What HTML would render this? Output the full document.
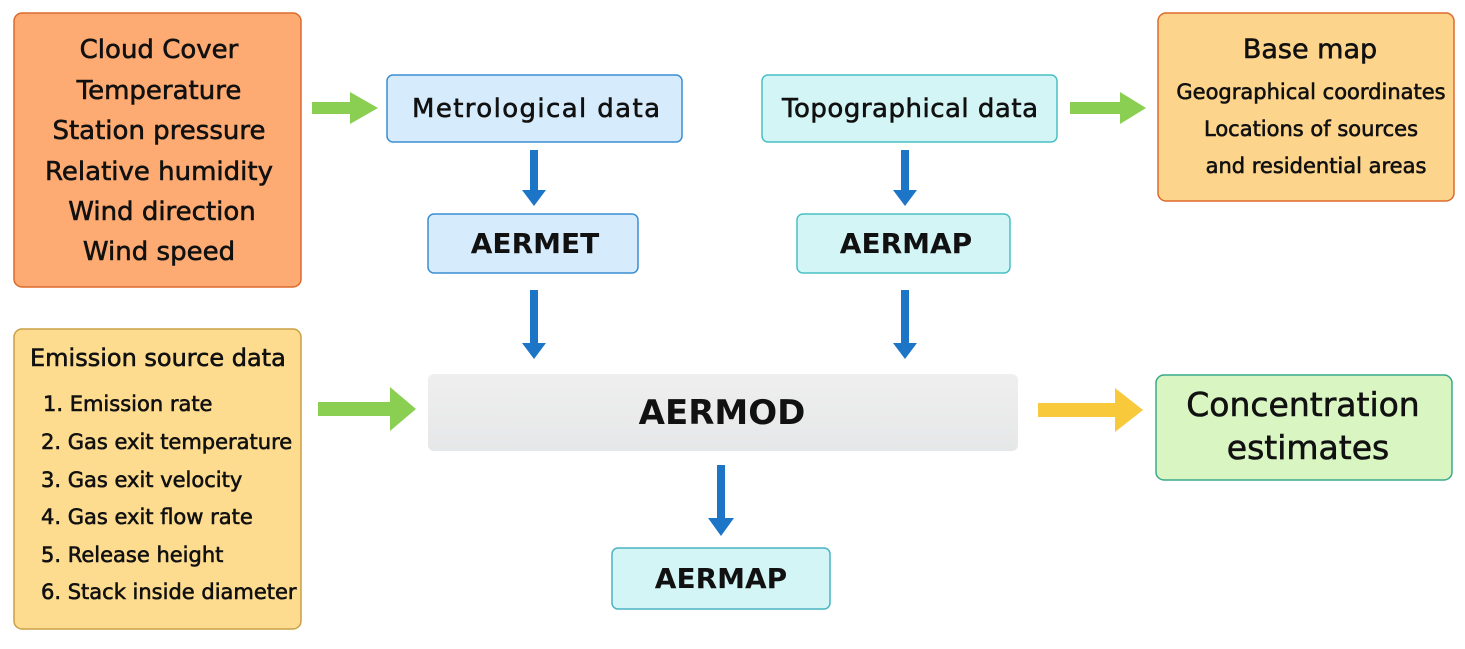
<!DOCTYPE html>
<html><head><meta charset="utf-8"><style>
html,body{margin:0;padding:0;background:#fff;}
svg{display:block;}
text{font-family:"DejaVu Sans","Liberation Sans",sans-serif;fill:#111;}
.m{stroke:#111;stroke-width:0.6;}
</style></head><body>
<svg width="1465" height="649" viewBox="0 0 1465 649" xmlns="http://www.w3.org/2000/svg">
<defs>
<linearGradient id="gray" x1="0" y1="0" x2="0" y2="1"><stop offset="0" stop-color="#efefef"/><stop offset="1" stop-color="#e6e7e8"/></linearGradient>
</defs>
<rect x="14" y="13" width="287" height="274" rx="8" fill="#fdab72" stroke="#dd6a2c" stroke-width="1.5"/>
<rect x="387" y="75" width="295" height="67" rx="6" fill="#d6ebfb" stroke="#3b8ed2" stroke-width="1.5"/>
<rect x="762" y="75" width="295" height="67" rx="6" fill="#d3f5f6" stroke="#49c0c4" stroke-width="1.5"/>
<rect x="1158" y="13" width="296" height="188" rx="8" fill="#fdd48c" stroke="#dd6a2c" stroke-width="1.5"/>
<rect x="428" y="214" width="210" height="59" rx="6" fill="#d6ebfb" stroke="#3b8ed2" stroke-width="1.5"/>
<rect x="797" y="214" width="213" height="59" rx="6" fill="#d3f5f6" stroke="#49c0c4" stroke-width="1.5"/>
<rect x="14" y="329" width="287" height="300" rx="8" fill="#fddc8f" stroke="#c9a046" stroke-width="1.5"/>
<rect x="428" y="374" width="590" height="77" rx="6" fill="url(#gray)"/>
<rect x="1156" y="375" width="296" height="105" rx="8" fill="#d9f6c2" stroke="#3aa88c" stroke-width="1.5"/>
<rect x="612" y="548" width="218" height="61" rx="6" fill="#d3f5f6" stroke="#49b4c4" stroke-width="1.5"/>

<g fill="#8bcf52">
<polygon points="312,102 350,102 350,92 378,108 350,124 350,114 312,114"/>
<polygon points="1070,102 1120,102 1120,92 1146,108 1120,124 1120,114 1070,114"/>
<polygon points="318,402 390,402 390,387 416,409 390,431 390,416 318,416"/>
</g>
<polygon fill="#f8c93a" points="1038,403 1115,403 1115,388 1143,410 1115,432 1115,417 1038,417"/>
<g fill="#1d75c8">
<polygon points="530,150 538,150 538,190 546,190 534,206 522,190 530,190"/>
<polygon points="901,150 909,150 909,190 917,190 905,206 893,190 901,190"/>
<polygon points="530,290 538,290 538,343 546,343 534,359 522,343 530,343"/>
<polygon points="901,290 909,290 909,343 917,343 905,359 893,343 901,343"/>
<polygon points="717,465 725,465 725,518 734,518 721,536 708,518 717,518"/>
</g>

<g font-size="26" text-anchor="middle" class="m">
<text x="159" y="58">Cloud Cover</text>
<text x="159" y="99">Temperature</text>
<text x="159" y="139">Station pressure</text>
<text x="159" y="180">Relative humidity</text>
<text x="162" y="220">Wind direction</text>
<text x="159" y="260">Wind speed</text>
<text x="536" y="117" textLength="248" lengthAdjust="spacing">Metrological  data</text>
<text x="910" y="117" textLength="256" lengthAdjust="spacing">Topographical  data</text>
<text x="1310" y="58" font-size="27">Base map</text>
</g>
<g font-size="28" text-anchor="middle" font-weight="bold">
<text x="535" y="253">AERMET</text>
<text x="906" y="253">AERMAP</text>
<text x="721" y="588">AERMAP</text>
</g>
<text x="722" y="424" font-size="34" font-weight="bold" text-anchor="middle">AERMOD</text>
<g font-size="33" text-anchor="middle" class="m">
<text x="1303" y="416">Concentration</text>
<text x="1308" y="459">estimates</text>
</g>
<g font-size="21" text-anchor="middle" class="m">
<text x="1311" y="99">Geographical coordinates</text>
<text x="1311" y="136">Locations of sources</text>
<text x="1316" y="173">and residential areas</text>
</g>
<text x="30" y="366" font-size="24" class="m">Emission source data</text>
<g font-size="21" class="m">
<text x="43" y="411">1. Emission rate</text>
<text x="41" y="449">2. Gas exit temperature</text>
<text x="41" y="487">3. Gas exit velocity</text>
<text x="41" y="524">4. Gas exit flow rate</text>
<text x="41" y="562">5. Release height</text>
<text x="41" y="599">6. Stack inside diameter</text>
</g>
</svg>
</body></html>
